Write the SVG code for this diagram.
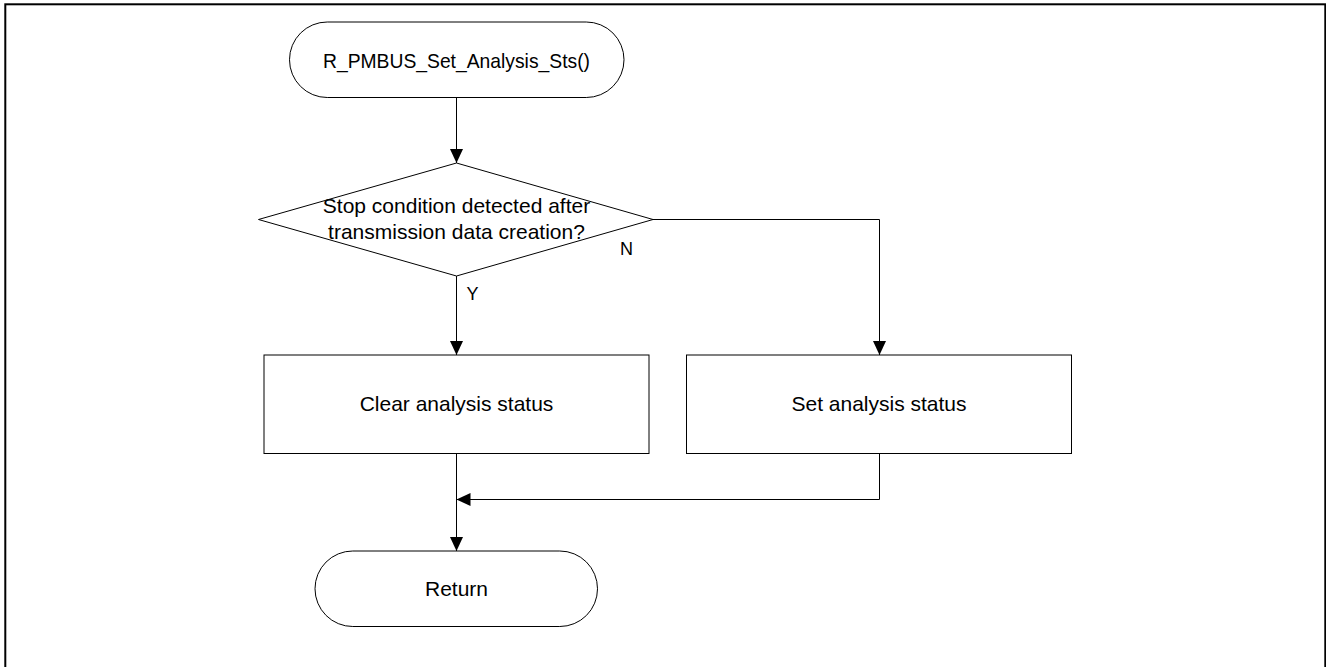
<svg xmlns="http://www.w3.org/2000/svg" width="1326" height="667" viewBox="0 0 1326 667">
<style>
.shape{fill:#fff;stroke:#000;stroke-width:1}
.conn{fill:none;stroke:#000;stroke-width:1}
text{font-family:"Liberation Sans",Arial,sans-serif;fill:#000}
.lbl{font-size:21px;text-anchor:middle}
.yn{font-size:18px}
</style>
<defs>
<marker id="arr" markerUnits="userSpaceOnUse" markerWidth="14" markerHeight="13" refX="14" refY="6.5" orient="auto">
<path d="M0,0 L14,6.5 L0,13 Z" fill="#000"/>
</marker>
</defs>
<rect x="5.3" y="4.3" width="1320" height="720" fill="#fff" stroke="#000" stroke-width="2"/>
<g id="connectors">
<path class="conn" d="M456.5,97.5 V163" marker-end="url(#arr)"/>
<path class="conn" d="M456.5,276 V355" marker-end="url(#arr)"/>
<path class="conn" d="M653,219.5 H879.5 V355" marker-end="url(#arr)"/>
<path class="conn" d="M456.5,453.5 V551" marker-end="url(#arr)"/>
<path class="conn" d="M879.5,453.5 V499.5 H456.5" marker-end="url(#arr)"/>
</g>
<g id="start">
<rect class="shape" x="289.5" y="22" width="334.5" height="75.5" rx="37.75" ry="37.75"/>
<text class="lbl" x="456.5" y="68" textLength="267" lengthAdjust="spacingAndGlyphs">R_PMBUS_Set_Analysis_Sts()</text>
</g>
<g id="decision">
<polygon class="shape" points="456.5,163 653,219.5 456.5,276 258.5,219.5"/>
<text class="lbl" x="456.5" y="213">Stop condition detected after</text>
<text class="lbl" x="456.5" y="238.5">transmission data creation?</text>
<text class="yn" x="620" y="255">N</text>
<text class="yn" x="466.5" y="300">Y</text>
</g>
<g id="clear">
<rect class="shape" x="264" y="355" width="385" height="98.5"/>
<text class="lbl" x="456.5" y="411">Clear analysis status</text>
</g>
<g id="set">
<rect class="shape" x="686.5" y="355" width="385" height="98.5"/>
<text class="lbl" x="879" y="411">Set analysis status</text>
</g>
<g id="return">
<rect class="shape" x="315" y="551" width="282.5" height="75.5" rx="37.75" ry="37.75"/>
<text class="lbl" x="456.5" y="596">Return</text>
</g>
</svg>
